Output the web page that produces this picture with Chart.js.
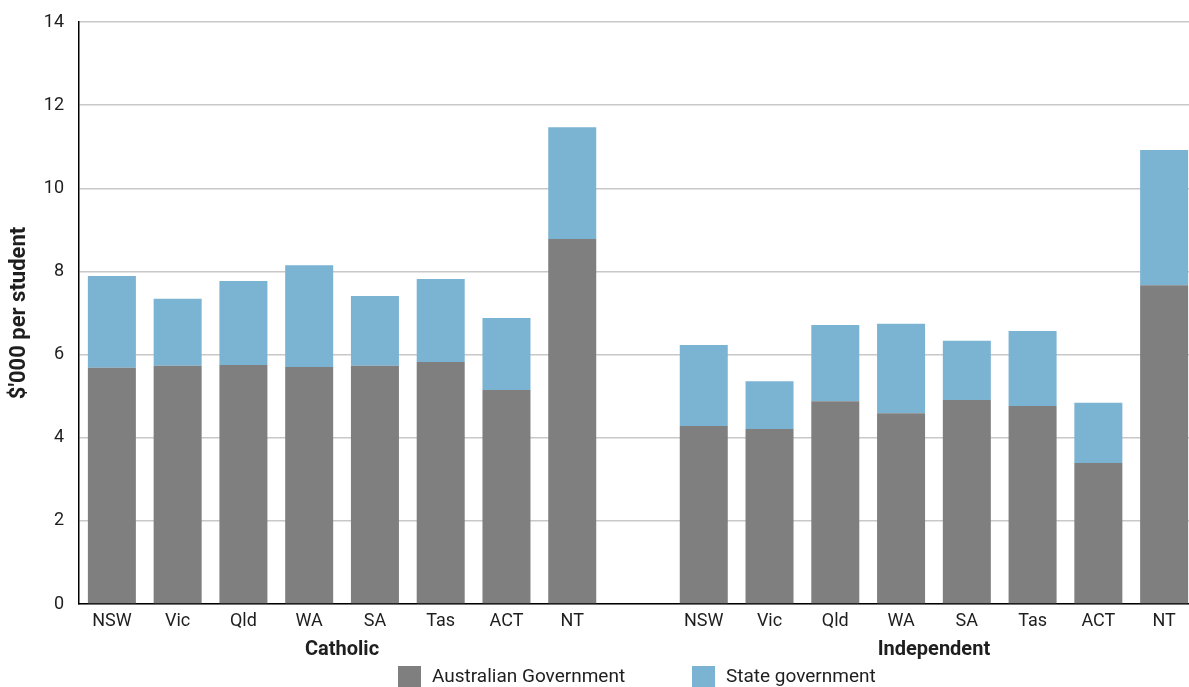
<!DOCTYPE html>
<html>
<head>
<meta charset="utf-8">
<script src="https://cdn.jsdelivr.net/npm/chart.js@4.4.1/dist/chart.umd.min.js"></script>
<style>
  html, body { margin: 0; padding: 0; background: #fff; overflow: hidden; }
  #wrap { position: relative; width: 1197px; height: 687px; }
</style>
</head>
<body>
<div id="wrap"><canvas id="funding-chart"></canvas></div>
<script>
// values ($'000 per student)
const states = ['NSW', 'Vic', 'Qld', 'WA', 'SA', 'Tas', 'ACT', 'NT'];
const sectors = ['Catholic', 'Independent'];
const categories = [...states, '', ...states];   // empty slot is the gap between sectors

const ausGov = [5.68, 5.73, 5.75, 5.70, 5.73, 5.82, 5.15, 8.78, null,
                4.28, 4.21, 4.88, 4.59, 4.91, 4.76, 3.39, 7.67];
const stateGov = [2.21, 1.61, 2.02, 2.45, 1.68, 2.00, 1.73, 2.69, null,
                  1.95, 1.15, 1.83, 2.15, 1.42, 1.81, 1.45, 3.25];

const yMax = 14;
const yStep = 2;

const GREY = '#7f7f7f';
const BLUE = '#7bb3d3';
const TEXT = '#1e1e1e';

Chart.defaults.font.family = 'Roboto';
Chart.defaults.font.size = 18;
Chart.defaults.color = TEXT;

// sector names under the state labels + the legend row
const extraLabels = {
  id: 'extraLabels',
  afterDraw(chart) {
    const ctx = chart.ctx;
    const x = chart.scales.x;
    ctx.save();
    ctx.fillStyle = TEXT;
    ctx.textBaseline = 'middle';
    ctx.textAlign = 'center';
    ctx.font = 'bold 20px Roboto';
    sectors.forEach((name, i) => {
      const first = i * (states.length + 1);
      const last = first + states.length - 1;
      const cx = (x.getPixelForValue(first) + x.getPixelForValue(last)) / 2;
      ctx.fillText(name, cx, 650);
    });

    // legend
    ctx.font = '19px Roboto';
    ctx.textAlign = 'left';
    const items = [
      { ds: 0, box: 398 },
      { ds: 1, box: 692 }
    ];
    items.forEach(it => {
      const ds = chart.data.datasets[it.ds];
      ctx.fillStyle = ds.backgroundColor;
      ctx.fillRect(it.box, 666, 23, 23);
      ctx.fillStyle = TEXT;
      ctx.fillText(ds.label, it.box + 34, 677);
    });
    ctx.restore();
  }
};

new Chart(document.getElementById('funding-chart'), {
  type: 'bar',
  data: {
    labels: categories,
    datasets: [
      {
        label: 'Australian Government',
        backgroundColor: GREY,
        data: ausGov
      },
      {
        label: 'State government',
        backgroundColor: BLUE,
        data: stateGov
      }
    ]
  },
  options: {
    responsive: true,
    maintainAspectRatio: false,
    animation: false,
    layout: {
      padding: { top: 22, left: 0, right: 0, bottom: 0 }
    },
    datasets: {
      bar: {
        barPercentage: 0.73,
        categoryPercentage: 1.0
      }
    },
    plugins: {
      legend: { display: false },
      tooltip: { enabled: false }
    },
    scales: {
      x: {
        stacked: true,
        grid: {
          display: false,
          drawTicks: false
        },
        border: {
          color: '#000',
          width: 1.5
        },
        ticks: {
          padding: 7,
          maxRotation: 0,
          autoSkip: false
        },
        afterFit(scale) {
          scale.height = 83;
        }
      },
      y: {
        stacked: true,
        min: 0,
        max: yMax,
        grid: {
          color: '#c8c8c8',
          lineWidth: 1.5,
          drawTicks: false
        },
        border: {
          color: '#000',
          width: 1.5
        },
        ticks: {
          stepSize: yStep,
          padding: 15
        },
        title: {
          display: true,
          text: "$'000 per student",
          font: { size: 22, weight: 'bold' },
          padding: { top: 6, bottom: 0 }
        },
        afterFit(scale) {
          scale.width = 79;
          // tick label overhang shouldn't push the plot down
          scale.paddingTop = 0;
          scale.paddingBottom = 0;
        }
      }
    }
  },
  plugins: [extraLabels]
});
</script>
</body>
</html>
